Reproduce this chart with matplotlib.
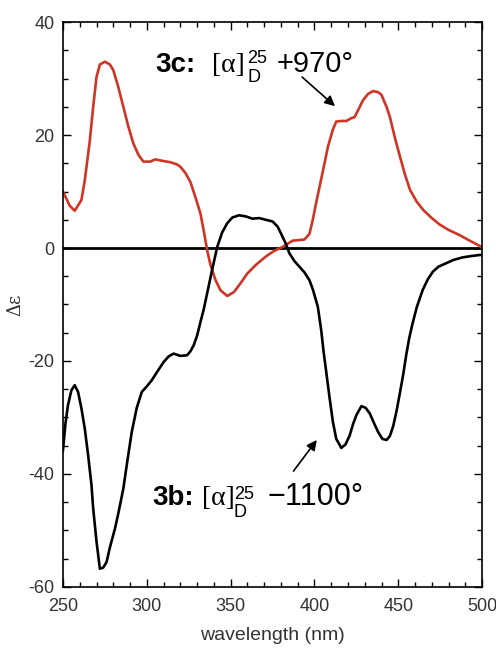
import matplotlib
matplotlib.use("Agg")
import matplotlib.pyplot as plt
from matplotlib.ticker import MultipleLocator

plt.rcParams['font.family'] = ['Liberation Sans', 'DejaVu Sans']
plt.rcParams['axes.unicode_minus'] = False

# CD spectrum of 3c (red)
wl_3c = [250, 254, 257, 261, 263, 266, 268, 270, 272, 275, 278, 280, 283, 286, 289,
         292, 295, 298, 302, 305, 310, 314, 318, 320, 323, 326, 329, 332, 334, 336,
         338, 341, 344, 348, 352, 356, 360, 365, 371, 376, 381, 387, 394, 397, 399,
         401, 403, 406, 408, 411, 413, 416, 419, 422, 424, 427, 429, 432, 435, 438,
         440, 443, 445, 448, 451, 454, 457, 461, 465, 470, 474.5, 480, 486.5, 492,
         498.4, 500]
de_3c = [10, 7.5, 6.6, 8.5, 12, 19, 25, 30.3, 32.5, 33, 32.5, 31.5, 28.5, 25, 21.5,
         18.5, 16.5, 15.3, 15.3, 15.7, 15.4, 15.2, 14.8, 14.4, 13.3, 11.7, 9, 6.1, 3, -0.4,
         -3, -5.7, -7.5, -8.5, -7.8, -6.2, -4.5, -3, -1.5, -0.5, 0.2, 1.3, 1.5, 2.5, 5,
         8, 10.8, 15, 17.9, 21, 22.4, 22.5, 22.5, 23, 23.2, 25, 26.2, 27.3, 27.8, 27.6,
         27.1, 25, 23.2, 19.5, 16.2, 13, 10.3, 8.2, 6.7, 5.3, 4.2, 3.2, 2.3, 1.4,
         0.4, 0]

# CD spectrum of 3b (black)
wl_3b = [250, 251.5, 253, 255, 257, 259, 261, 263, 265, 267, 268, 270, 272, 274, 276,
         278, 281, 283, 286, 288, 291, 294, 297, 300, 303, 306, 310, 313, 316, 320,
         324, 326, 328, 330, 332, 334, 336, 339, 342, 345, 348, 351, 355, 359, 363,
         367, 371, 375, 378, 380, 383, 385, 388, 391, 394, 397, 399, 402, 404, 405.5,
         407, 409, 411, 413, 416, 418.5, 421, 423, 425, 428, 430.5, 433, 435.5, 438,
         440.5, 443, 445, 447, 449, 450.7, 453, 454.7, 456.5, 458.4, 461, 464.6, 467.5,
         470.6, 474, 478.5, 483, 488.5, 494, 498.4, 500]
de_3b = [-35.8, -31, -27.8, -25.2, -24.3, -25.5, -28.4, -32, -36.7, -42, -46.1, -52, -56.8, -56.6, -55.6,
         -53, -49.7, -47, -42.6, -38.5, -32.6, -28.3, -25.5, -24.5, -23.4, -22, -20.2, -19.2, -18.7, -19.1,
         -19.0, -18.3, -17.2, -15.5, -13.1, -10.8, -8, -3.8, 0.2, 2.8, 4.4, 5.4, 5.8, 5.6, 5.2,
         5.3, 5.0, 4.7, 3.8, 2.6, 0.7, -0.9, -2.3, -3.3, -4.3, -5.7, -7.3, -10.4, -14.5, -18.5,
         -21.9, -26.5, -30.8, -33.8, -35.4, -34.8, -33.2, -31.2, -29.6, -28.0, -28.3, -29.3, -31, -32.6,
         -33.8, -34.0, -33.3, -31.5, -28.8, -26.1, -22.3, -19.0, -16, -13.5, -10.5, -7.4, -5.6,
         -4.2, -3.3, -2.7, -2.1, -1.65, -1.4, -1.24, -1.2]

fig = plt.figure(figsize=(4.96, 6.52), dpi=100)
ax = fig.add_axes([0.127, 0.100, 0.845, 0.866])

ax.axhline(0, color='black', lw=2.0, zorder=1)
ax.plot(wl_3c, de_3c, color='#cf3524', lw=1.9, zorder=2)
ax.plot(wl_3b, de_3b, color='black', lw=1.9, zorder=3)

ax.set_xlim(250, 500)
ax.set_ylim(-60, 40)
ax.xaxis.set_major_locator(MultipleLocator(50))
ax.xaxis.set_minor_locator(MultipleLocator(10))
ax.yaxis.set_major_locator(MultipleLocator(20))
ax.yaxis.set_minor_locator(MultipleLocator(5))
ax.tick_params(which='both', direction='in', top=True, right=True,
               labelsize=13, labelcolor='#333333', width=1)
ax.tick_params(axis='x', pad=8)
ax.tick_params(axis='y', pad=6)
ax.tick_params(which='major', length=6)
ax.tick_params(which='minor', length=3.5)
for s in ax.spines.values():
    s.set_linewidth(1.2)

ax.set_xlabel('wavelength (nm)', fontsize=14, color='#333333', labelpad=9)
ax.set_ylabel('Δε', fontsize=13, color='#333333', labelpad=3, family=['DejaVu Serif'])

# 3c label
ax.text(305, 31.2, '3c:', fontsize=20, fontweight='bold', ha='left', va='baseline')
ax.text(339, 31.2, '[α]', fontsize=20, family=['Liberation Serif'], ha='left', va='baseline')
ax.text(359.8, 32.7, '25', fontsize=13, ha='left', va='baseline')
ax.text(359.8, 29.4, 'D', fontsize=13, ha='left', va='baseline')
ax.text(377.7, 31.2, '+970°', fontsize=21, ha='left', va='baseline')
ax.annotate('', xy=(413.5, 24.8), xytext=(391.4, 30.6),
            arrowprops=dict(arrowstyle='-|>', color='black', lw=1.2, mutation_scale=15))

# 3b label
ax.text(303.1, -45.5, '3b:', fontsize=20, fontweight='bold', ha='left', va='baseline')
ax.text(332.9, -45.5, '[α]', fontsize=20, family=['Liberation Serif'], ha='left', va='baseline')
ax.text(351.8, -44.4, '25', fontsize=13, ha='left', va='baseline')
ax.text(351.8, -47.6, 'D', fontsize=13, ha='left', va='baseline')
ax.text(371.7, -45.5, '\u22121100°', fontsize=22, ha='left', va='baseline')
ax.annotate('', xy=(402.4, -33.6), xytext=(386.5, -39.9),
            arrowprops=dict(arrowstyle='-|>', color='black', lw=1.2, mutation_scale=15))

fig.savefig('out.png', dpi=100)
